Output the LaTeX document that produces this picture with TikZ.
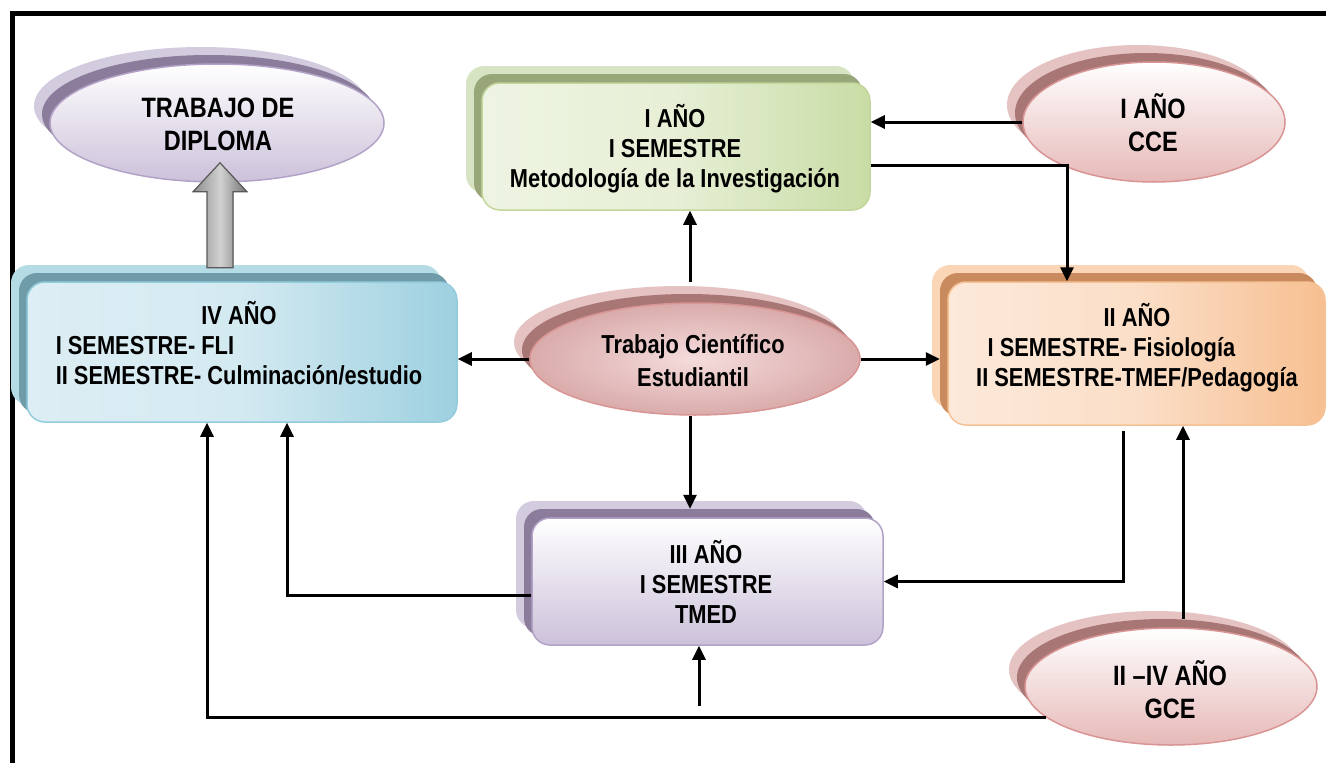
\documentclass[tikz,border=0pt]{standalone}
\usepackage{fontspec}
\setmainfont{Liberation Sans}[FakeStretch=0.84]
\usetikzlibrary{arrows.meta,calc,shapes.geometric}
\definecolor{gLt}{HTML}{EEF4E2}\definecolor{gDk}{HTML}{C9DCA5}\definecolor{gLn}{HTML}{C3D69B}
\definecolor{gS1}{HTML}{98A67A}\definecolor{gS2}{HTML}{D7E4C3}
\definecolor{bLt}{HTML}{DDEEF4}\definecolor{bDk}{HTML}{9DD0E0}\definecolor{bLn}{HTML}{93CDDD}
\definecolor{bS1}{HTML}{6F9CA8}\definecolor{bS2}{HTML}{B5DCE5}
\definecolor{oLt}{HTML}{FCE9DA}\definecolor{oDk}{HTML}{F7BF91}\definecolor{oLn}{HTML}{F5C295}
\definecolor{oS1}{HTML}{C98A5E}\definecolor{oS2}{HTML}{FBD6B6}
\definecolor{vLt}{HTML}{FFFFFF}\definecolor{vDk}{HTML}{CCC1DA}\definecolor{vLn}{HTML}{B3A2C7}
\definecolor{vS1}{HTML}{8B7C9B}\definecolor{vS2}{HTML}{D3CBDE}
\definecolor{pLt}{HTML}{FFFFFF}\definecolor{pDk}{HTML}{E6B9B8}\definecolor{pLn}{HTML}{D99594}
\definecolor{pS1}{HTML}{A77675}\definecolor{pS2}{HTML}{E6C3C3}
\definecolor{pIn}{HTML}{F5DCDC}
\begin{document}
\begin{tikzpicture}[x=1pt,y=-1pt,
  txt/.style={font=\bfseries\fontsize{26}{30}\selectfont, align=center},
  etxt/.style={font=\bfseries\fontsize{28}{33}\selectfont, align=center},
  rbox/.style 2 args={rectangle, rounded corners=18pt, minimum width=#1, minimum height=#2, inner sep=0pt},
  ell/.style 2 args={ellipse, minimum width=#1, minimum height=#2, inner sep=0pt},
  conn/.style={line width=3pt, -{Triangle[length=14pt,width=13pt]}}
]
\useasboundingbox (0,0) rectangle (1326,763);
\fill[white] (0,0) rectangle (1326,763);
% frame
\draw[line width=5pt] (10,13) -- (1326,13);
\draw[line width=5pt] (12.5,11) -- (12.5,763);

% ---- TRABAJO DE DIPLOMA
\node[ell={334pt}{118pt}, fill=vS2] (dipS2) at (201,106) {};
\node[ell={334pt}{118pt}, fill=vS1] (dipS1) at (209,114) {};
\node[ell={334pt}{118pt}, top color=vLt, bottom color=vDk, draw=vLn, line width=1.5pt] (dip) at (217,123) {};
\node[etxt] (diptext) at (218,124) {TRABAJO DE\\DIPLOMA};

% ---- green box
\node[rbox={388pt}{127pt}, fill=gS2] (greenS2) at (660,129.5) {};
\node[rbox={388pt}{127pt}, fill=gS1] (greenS1) at (668,137.5) {};
\node[rbox={388pt}{127pt}, left color=gLt, right color=gDk, middle color=gLt!80!gDk, draw=gLn, line width=1.5pt] (green) at (676,146.5) {};
\node[txt] (greentext) at (675,149) {I AÑO\\I SEMESTRE\\Metodología de la Investigación};

% ---- CCE
\node[ell={262pt}{120pt}, fill=pS2] (cceS2) at (1138,105) {};
\node[ell={262pt}{120pt}, fill=pS1] (cceS1) at (1146,113) {};
\node[ell={262pt}{120pt}, top color=pLt, bottom color=pDk, draw=pLn, line width=1.5pt] (cce) at (1154,122) {};
\node[etxt] (ccetext) at (1153,123) {I AÑO\\CCE};

% ---- IV box
\node[rbox={430pt}{140pt}, fill=bS2] (ivS2) at (226,335) {};
\node[rbox={430pt}{140pt}, fill=bS1] (ivS1) at (234,343) {};
\node[rbox={430pt}{140pt}, left color=bLt, right color=bDk, middle color=bLt!85!bDk, draw=bLn, line width=1.5pt] (iv) at (242,352) {};
\node[txt] (ivtext) at (239,347)
  {\begin{tabular}{@{}l@{}}\multicolumn{1}{@{}c@{}}{IV AÑO}\\ I SEMESTRE- FLI\\ II SEMESTRE- Culminación/estudio\end{tabular}};

% ---- central ellipse
\node[ell={330pt}{112pt}, fill=pS2] (ctrS2) at (679,342) {};
\node[ell={330pt}{112pt}, fill=pS1] (ctrS1) at (687,350) {};
\node[ell={330pt}{112pt}, inner color=pIn, outer color=pDk!80!pS1, draw=pLn, line width=1.5pt] (ctr) at (695,359) {};
\node[font=\bfseries\fontsize{26}{33}\selectfont, align=center] (ctrtext) at (693,361) {Trabajo Científico\\Estudiantil};

% ---- II box
\node[rbox={377pt}{143pt}, fill=oS2] (iiS2) at (1120.5,336.5) {};
\node[rbox={377pt}{143pt}, fill=oS1] (iiS1) at (1128.5,344.5) {};
\node[rbox={377pt}{143pt}, left color=oLt, right color=oDk, middle color=oLt!75!oDk, draw=oLn, line width=1.5pt] (ii) at (1136.5,353.5) {};
\node[txt] (iitext) at (1137,348)
  {II AÑO\\\mbox{I SEMESTRE- Fisiología\hspace{51pt}}\\II SEMESTRE-TMEF/Pedagogía};

% ---- III box
\node[rbox={351pt}{127pt}, fill=vS2] (iiiS2) at (691.5,564.5) {};
\node[rbox={351pt}{127pt}, fill=vS1] (iiiS1) at (699.5,572.5) {};
\node[rbox={351pt}{127pt}, top color=vLt, bottom color=vDk, draw=vLn, line width=1.5pt] (iii) at (707.5,581.5) {};
\node[txt] (iiitext) at (706,582) {III AÑO\\I SEMESTRE\\TMED};

% ---- GCE
\node[ell={292pt}{117pt}, fill=pS2] (gceS2) at (1155,669.5) {};
\node[ell={292pt}{117pt}, fill=pS1] (gceS1) at (1163,677.5) {};
\node[ell={292pt}{117pt}, top color=pLt, bottom color=pDk, draw=pLn, line width=1.5pt] (gce) at (1171,686.5) {};
\node[etxt] (gcetext) at (1170,690) {II –IV AÑO\\GCE};

% ---- gray block arrow IV -> Diploma
\coordinate (gb) at ($(ivS2.north)+(-6,3)$);
\filldraw[left color=black!45, right color=black!55, middle color=black!18, draw=black!65, line width=1.2pt]
  ($(gb)+(-13,0)$) -- ($(gb)+(-13,-76)$) -- ($(gb)+(-27,-76)$) -- ($(gb)+(0,-105)$)
  -- ($(gb)+(27,-76)$) -- ($(gb)+(13,-76)$) -- ($(gb)+(13,0)$) -- cycle;

% ---- connectors
\draw[conn] (cce.west) -- (cce.west -| green.east);
\draw[conn] ([yshift=-18.5pt]green.east) -| ([xshift=-69.5pt]ii.north);
\draw[conn] ([xshift=-5pt,yshift=20pt]ctr.north) -- ([xshift=-5pt]ctr.north |- green.south);
\draw[conn] (ctr.west) -- (ctr.west -| iv.east);
\draw[conn] (ctr.east) -- (ctr.east -| iiS1.west);
\draw[conn] ([xshift=-5pt]ctr.south) -- ([xshift=-5pt]ctr.south |- iiiS1.north);
\draw[conn] ([xshift=-13pt,yshift=-5pt]ii.south) |- (iii.east);
\draw[conn] ([xshift=12pt]gce.north |- gceS1.north) -- ([xshift=12pt]gce.north |- ii.south);
\draw[conn] (gce.194) -| ([xshift=-35pt]iv.south);
\draw[conn] ([yshift=-13.5pt]iii.west) -| ([xshift=45pt]iv.south);
\coordinate (kin) at (699,706);
\draw[conn] (kin) -- (kin |- iii.south);
\end{tikzpicture}
\end{document}
